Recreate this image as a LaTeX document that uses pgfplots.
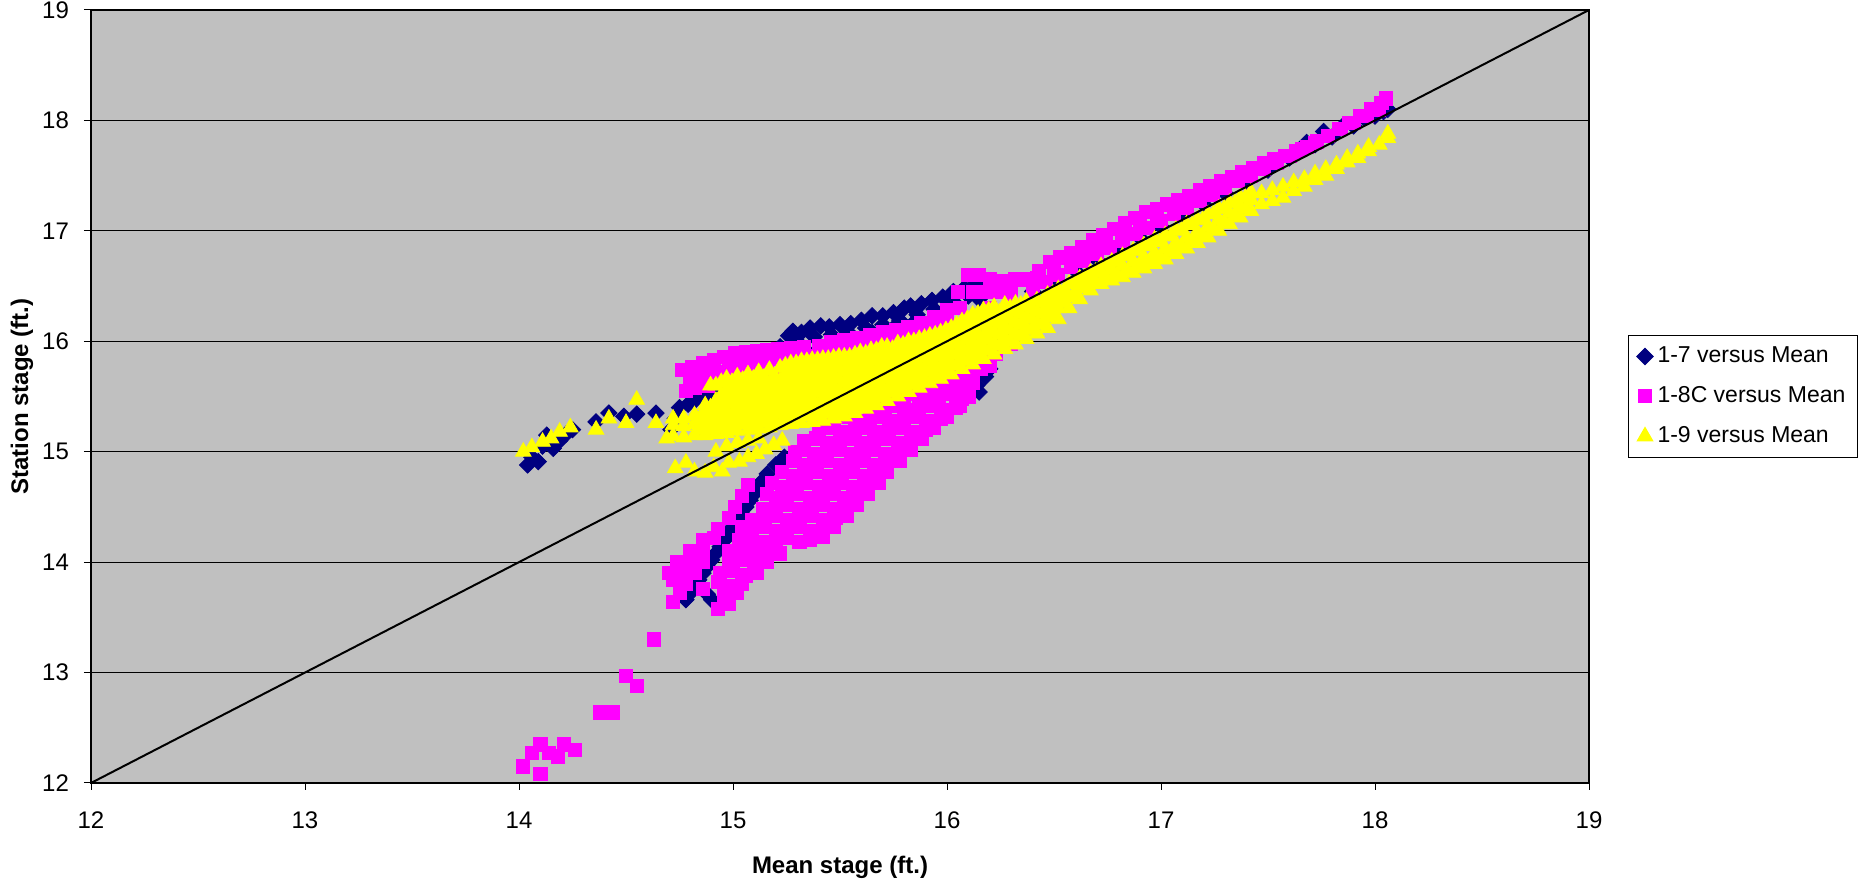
\documentclass[border=0pt]{standalone}
\usepackage{fontspec}
\setmainfont{Liberation Sans}
\usepackage{pgfplots}
\pgfplotsset{compat=1.18}

\definecolor{plotbg}{HTML}{C0C0C0}
\definecolor{s17}{HTML}{000080}
\definecolor{s18}{HTML}{FF00FF}
\definecolor{s19}{HTML}{FFFF00}

\begin{document}
\begin{tikzpicture}
\begin{axis}[
    name=ax,
    scale only axis,
    width=749pt, height=386.5pt,
    xmin=12, xmax=19, ymin=12, ymax=19,
    xtick={12,13,...,19}, ytick={12,13,...,19},
    tick pos=left, tick align=outside, major tick length=3.5pt,
    tick style={black, line width=0.5pt},
    axis line style={black, line width=0.6pt},
    axis background/.style={fill=plotbg},
    ymajorgrids, grid style={black, line width=0.5pt},
    clip marker paths=true,
    /pgf/number format/assume math mode=true,
    ticklabel style={font=\fontsize{12}{14}\selectfont},
    xticklabel style={yshift=-7.5pt},
    yticklabel style={xshift=-4pt},
    xlabel={Mean stage (ft.)},
    ylabel={Station stage (ft.)},
    label style={font=\bfseries\fontsize{12}{14}\selectfont},
    ylabel style={at={(axis description cs:-0.046,0.5)}, anchor=center},
    xlabel style={at={(axis description cs:0.5,-0.1087)}, anchor=center},
    legend cell align=left,
    legend style={at={(1,0.5)}, anchor=west, xshift=19.5pt,
        draw=black, line width=0.5pt, fill=white,
        font=\fontsize{11.5}{13}\selectfont, row sep=6.5pt,
        inner xsep=4pt, inner ysep=4pt},
    legend image code/.code={\path (0pt,0pt) (8pt,0pt); \draw[#1] plot coordinates {(4pt,0pt)};},
]

% 1-7 versus Mean
\addplot[only marks, mark=square*, mark size=2.9pt, color=s17, mark options={rotate=45, draw=s17, fill=s17}] coordinates {
(14.04,14.88) (14.06,14.95) (14.09,14.91) (14.11,15.05) (14.13,15.15) (14.16,15.03) (14.19,15.1) (14.22,15.16) (14.25,15.2) (14.36,15.27) (14.42,15.35) (14.49,15.32) (14.55,15.34) (14.64,15.35)
(14.71,15.2) (14.73,15.3) (14.75,15.4) (14.79,15.43) (14.82,15.46) (14.86,15.48) (14.89,15.5) (14.92,15.51) (14.96,15.53) (15.0,15.55) (15.05,15.56) (15.1,15.57) (15.16,15.58) (15.2,15.6) (15.24,15.62)
(15.22,15.95) (15.26,16.05) (15.28,16.09) (15.32,16.08) (15.36,16.12) (15.41,16.14) (15.45,16.13) (15.5,16.15) (15.55,16.16) (15.6,16.19) (15.65,16.23) (15.7,16.23) (15.75,16.26) (15.8,16.3) (15.83,16.32) (15.88,16.34) (15.93,16.37) (15.98,16.4) (16.03,16.45) (16.08,16.48) (16.12,16.5) (16.16,16.52)
(15.3,16.0) (15.38,16.04) (15.46,16.06) (15.54,16.08) (15.62,16.12) (15.7,16.15) (15.78,16.19) (15.86,16.24) (15.94,16.29) (16.02,16.35) (16.1,16.41)
(15.25,15.85) (15.35,15.9) (15.45,15.97) (15.55,16.02) (15.65,16.08) (15.75,16.12) (15.85,16.18) (15.95,16.25) (16.05,16.32) (16.15,16.38)
(16.2,16.26) (16.3,16.35) (16.4,16.45) (16.5,16.55) (16.6,16.64) (16.7,16.74) (16.8,16.84) (16.9,16.94) (17.0,17.04) (17.1,17.14) (17.2,17.24) (17.3,17.34) (17.4,17.45) (17.5,17.55) (17.6,17.66) (17.68,17.8) (17.72,17.78) (17.76,17.9) (17.8,17.85) (17.85,17.95) (17.9,17.95) (17.95,18.02) (18.0,18.04) (18.04,18.08) (18.06,18.1)
(14.78,13.66) (14.8,13.72) (14.82,13.78) (14.84,13.84) (14.86,13.9) (14.88,13.96) (14.9,14.02) (14.92,14.08) (14.94,14.14) (14.96,14.2) (14.98,14.26) (15.0,14.32) (15.02,14.38) (15.04,14.44) (15.06,14.5) (15.08,14.56) (15.1,14.62) (15.12,14.68) (15.14,14.74) (15.16,14.8) (15.2,14.88) (15.24,14.95)
(14.88,13.71) (14.9,13.66) (15.0,14.05) (15.08,14.2) (15.05,14.15)
(16.05,15.8) (16.1,15.72) (16.12,15.65) (16.14,15.6) (16.15,15.54) (16.18,15.68) (16.2,15.75) (16.25,15.97) (16.3,16.05)
};
\addlegendentry{1-7 versus Mean}

% 1-8C versus Mean
\addplot[only marks, mark=square*, mark size=3.3pt, color=s18, mark options={draw=s18, fill=s18}] coordinates {
(14.02,12.15) (14.06,12.27) (14.1,12.35) (14.1,12.08) (14.14,12.27) (14.18,12.24) (14.21,12.35) (14.26,12.3) (14.38,12.64) (14.44,12.64) (14.5,12.97) (14.55,12.88) (14.63,13.3)
(14.72,13.64) (14.93,13.58) (14.98,13.62)
(14.75,13.72) (14.86,13.76) (14.96,13.7) (15.02,13.72)
(14.72,13.84) (14.78,13.8) (14.93,13.82) (14.98,13.78) (15.04,13.8)
(14.7,13.9) (14.76,13.92) (14.82,13.9) (14.94,13.9) (15.0,13.92) (15.06,13.88) (15.11,13.9)
(14.74,14.0) (14.8,14.02) (14.86,14.0) (14.98,14.0) (15.04,14.02) (15.1,13.98) (15.16,14.0)
(14.8,14.1) (14.86,14.12) (14.98,14.1) (15.04,14.12) (15.1,14.1) (15.16,14.12) (15.22,14.08)
(14.86,14.2) (14.91,14.22) (15.03,14.2) (15.08,14.22) (15.14,14.18) (15.2,14.2) (15.25,14.22) (15.31,14.18) (15.36,14.2) (15.42,14.23)
(14.93,14.3) (15.04,14.32) (15.09,14.3) (15.14,14.32) (15.2,14.28) (15.25,14.3) (15.31,14.32) (15.36,14.28) (15.42,14.3) (15.47,14.32)
(14.98,14.4) (15.09,14.38) (15.15,14.4) (15.2,14.42) (15.26,14.38) (15.31,14.4) (15.37,14.42) (15.42,14.38) (15.48,14.4) (15.53,14.42)
(15.01,14.5) (15.14,14.48) (15.2,14.5) (15.25,14.52) (15.31,14.48) (15.36,14.5) (15.42,14.52) (15.47,14.48) (15.53,14.5) (15.58,14.52)
(15.04,14.6) (15.16,14.62) (15.2,14.58) (15.25,14.6) (15.3,14.62) (15.36,14.58) (15.41,14.6) (15.47,14.62) (15.52,14.58) (15.58,14.6) (15.63,14.62)
(15.07,14.7) (15.18,14.72) (15.23,14.68) (15.29,14.7) (15.34,14.72) (15.4,14.68) (15.45,14.7) (15.51,14.72) (15.56,14.68) (15.62,14.7) (15.68,14.72)
(15.23,14.82) (15.28,14.78) (15.34,14.8) (15.39,14.82) (15.45,14.78) (15.5,14.8) (15.56,14.82) (15.61,14.78) (15.67,14.8) (15.72,14.82)
(15.28,14.92) (15.33,14.88) (15.39,14.9) (15.44,14.92) (15.5,14.88) (15.55,14.9) (15.61,14.92) (15.66,14.88) (15.72,14.9) (15.78,14.92)
(15.29,15.0) (15.33,15.02) (15.38,14.98) (15.44,15.0) (15.49,15.02) (15.55,14.98) (15.6,15.0) (15.66,15.02) (15.71,14.98) (15.77,15.0) (15.83,15.02)
(15.33,15.1) (15.39,15.12) (15.44,15.08) (15.5,15.1) (15.55,15.12) (15.61,15.08) (15.66,15.1) (15.72,15.12) (15.77,15.08) (15.83,15.1) (15.88,15.12)
(15.4,15.2) (15.46,15.22) (15.51,15.18) (15.57,15.2) (15.62,15.22) (15.68,15.18) (15.73,15.2) (15.79,15.22) (15.84,15.18) (15.9,15.2) (15.94,15.22)
(15.47,15.3) (15.53,15.32) (15.58,15.28) (15.64,15.3) (15.69,15.32) (15.75,15.28) (15.8,15.3) (15.86,15.32) (15.91,15.28) (15.97,15.3) (16.0,15.32)
(15.54,15.4) (15.6,15.42) (15.65,15.38) (15.71,15.4) (15.76,15.42) (15.82,15.38) (15.87,15.4) (15.93,15.42) (15.98,15.38) (16.04,15.4) (16.06,15.42)
(15.63,15.5) (15.69,15.52) (15.74,15.48) (15.8,15.5) (15.85,15.52) (15.91,15.48) (15.96,15.5) (16.02,15.52) (16.07,15.48) (16.1,15.5)
(15.76,15.6) (15.82,15.62) (15.87,15.58) (15.93,15.6) (15.98,15.62) (16.04,15.58) (16.09,15.6) (16.12,15.62)
(15.88,15.7) (15.94,15.72) (15.99,15.68) (16.05,15.7) (16.1,15.72) (16.16,15.75) (16.2,15.78)
(16.0,15.8) (16.06,15.82) (16.11,15.8) (16.17,15.84) (16.23,15.89)
(16.12,15.92) (16.18,15.94) (16.24,15.95) (16.3,15.98)
(14.76,15.74) (14.81,15.77) (14.86,15.8) (14.91,15.83) (14.96,15.86) (15.01,15.89) (15.06,15.9) (15.11,15.91) (15.16,15.92) (15.21,15.93) (15.27,15.94) (15.33,15.95) (15.4,15.96) (15.46,15.99) (15.52,16.01) (15.58,16.03) (15.64,16.06) (15.7,16.08) (15.76,16.1) (15.82,16.13) (15.88,16.17) (15.94,16.22) (16.0,16.28) (16.05,16.45) (16.1,16.6) (16.15,16.6) (16.2,16.56) (16.26,16.55) (16.32,16.56)
(14.8,15.65) (14.86,15.68) (14.92,15.72) (14.98,15.76) (15.04,15.78) (15.1,15.8) (15.16,15.82) (15.22,15.84) (15.28,15.85) (15.34,15.87) (15.4,15.88) (15.46,15.9) (15.52,15.92) (15.58,15.94) (15.64,15.97) (15.7,16.0) (15.76,16.02) (15.82,16.05) (15.88,16.08) (15.94,16.12) (16.0,16.17) (16.06,16.3) (16.12,16.45) (16.18,16.45) (16.24,16.45) (16.3,16.46)
(14.78,15.55) (14.82,15.58) (14.88,15.6) (14.94,15.64) (15.0,15.67) (15.08,15.7) (15.16,15.73) (15.24,15.76) (15.32,15.78) (15.4,15.8) (15.5,15.83) (15.6,15.87) (15.7,15.92) (15.8,15.97) (15.9,16.02) (16.0,16.08) (16.1,16.18) (16.2,16.3) (16.3,16.38)
(16.38,16.56) (16.43,16.64) (16.48,16.72) (16.53,16.76) (16.58,16.8) (16.63,16.85) (16.68,16.92) (16.73,16.96) (16.78,17.02) (16.83,17.07) (16.88,17.12) (16.93,17.17) (16.98,17.2) (17.03,17.24) (17.08,17.28) (17.13,17.32) (17.18,17.37) (17.23,17.41) (17.28,17.45) (17.33,17.49) (17.38,17.53) (17.43,17.57) (17.48,17.61) (17.53,17.65) (17.58,17.68) (17.63,17.72) (17.68,17.76) (17.73,17.81) (17.78,17.86) (17.83,17.92) (17.88,17.98) (17.93,18.04) (17.98,18.1) (18.03,18.16) (18.05,18.2)
(16.42,16.57) (16.5,16.65) (16.58,16.73) (16.66,16.81) (16.74,16.89) (16.82,16.97) (16.9,17.05) (16.98,17.13) (17.06,17.21) (17.14,17.29)
(16.4,16.47) (16.46,16.54) (16.52,16.6) (16.58,16.67) (16.64,16.73) (16.7,16.79) (16.76,16.85) (16.82,16.91) (16.88,16.97) (16.94,17.03) (17.0,17.09) (17.06,17.15) (17.12,17.21) (17.18,17.27) (17.24,17.33) (17.3,17.39) (17.36,17.45) (17.42,17.5) (17.48,17.56) (17.54,17.62) (17.6,17.68) (17.66,17.74) (17.72,17.8) (17.78,17.86) (17.84,17.92) (17.9,17.98) (17.96,18.04) (18.02,18.1)
};
\addlegendentry{1-8C versus Mean}

% 1-9 versus Mean
\addplot[only marks, mark=triangle*, mark size=4.5pt, color=s19, mark options={draw=s19, fill=s19}] coordinates {
(14.02,15.0) (14.06,15.04) (14.11,15.09) (14.15,15.12) (14.19,15.18) (14.24,15.22) (14.36,15.2) (14.42,15.3) (14.5,15.26) (14.55,15.47) (14.64,15.26) (14.69,15.12)
(14.73,14.85) (14.78,14.9) (14.82,14.82) (14.87,14.81) (14.91,14.86) (14.95,14.82) (14.98,14.9) (15.03,14.91) (15.07,14.95) (15.11,14.98) (15.15,15.02) (15.19,15.06) (15.23,15.1) (14.92,15.0) (14.97,15.05) (15.02,15.08) (15.07,15.1) (15.12,15.12)
(14.72,15.14) (14.72,15.24) (14.72,15.3)
(14.77,15.13) (14.77,15.23) (14.77,15.3)
(14.82,15.15) (14.82,15.25) (14.82,15.33)
(14.87,15.15) (14.87,15.25) (14.87,15.35) (14.87,15.42)
(14.92,15.16) (14.92,15.26) (14.92,15.36) (14.92,15.46) (14.92,15.6)
(14.97,15.17) (14.97,15.27) (14.97,15.37) (14.97,15.47) (14.97,15.57) (14.97,15.66)
(15.02,15.19) (15.02,15.29) (15.02,15.39) (15.02,15.49) (15.02,15.59) (15.02,15.68)
(15.07,15.2) (15.07,15.3) (15.07,15.4) (15.07,15.5) (15.07,15.6) (15.07,15.7)
(15.12,15.21) (15.12,15.31) (15.12,15.41) (15.12,15.51) (15.12,15.61) (15.12,15.72)
(15.17,15.22) (15.17,15.32) (15.17,15.42) (15.17,15.52) (15.17,15.62) (15.17,15.74)
(15.22,15.24) (15.22,15.34) (15.22,15.44) (15.22,15.54) (15.22,15.64) (15.22,15.76)
(15.27,15.25) (15.27,15.35) (15.27,15.45) (15.27,15.55) (15.27,15.65) (15.27,15.75) (15.27,15.8)
(15.32,15.26) (15.32,15.36) (15.32,15.46) (15.32,15.56) (15.32,15.66) (15.32,15.76) (15.32,15.82)
(15.37,15.27) (15.37,15.37) (15.37,15.47) (15.37,15.57) (15.37,15.67) (15.37,15.77) (15.37,15.83)
(15.42,15.28) (15.42,15.38) (15.42,15.48) (15.42,15.58) (15.42,15.68) (15.42,15.78) (15.42,15.84)
(15.47,15.3) (15.47,15.4) (15.47,15.5) (15.47,15.6) (15.47,15.7) (15.47,15.8) (15.47,15.85)
(15.52,15.32) (15.52,15.42) (15.52,15.52) (15.52,15.62) (15.52,15.72) (15.52,15.82) (15.52,15.86)
(15.57,15.35) (15.57,15.45) (15.57,15.55) (15.57,15.65) (15.57,15.75) (15.57,15.85) (15.57,15.88)
(15.62,15.39) (15.62,15.49) (15.62,15.59) (15.62,15.69) (15.62,15.79) (15.62,15.89)
(15.67,15.42) (15.67,15.52) (15.67,15.62) (15.67,15.72) (15.67,15.82) (15.67,15.92)
(15.72,15.46) (15.72,15.56) (15.72,15.66) (15.72,15.76) (15.72,15.86) (15.72,15.95)
(15.77,15.5) (15.77,15.6) (15.77,15.7) (15.77,15.8) (15.77,15.9) (15.77,15.98)
(15.82,15.54) (15.82,15.64) (15.82,15.74) (15.82,15.84) (15.82,15.94) (15.82,16.0)
(15.87,15.58) (15.87,15.68) (15.87,15.78) (15.87,15.88) (15.87,15.98) (15.87,16.02)
(15.92,15.62) (15.92,15.72) (15.92,15.82) (15.92,15.92) (15.92,16.02) (15.92,16.05)
(15.97,15.66) (15.97,15.76) (15.97,15.86) (15.97,15.96) (15.97,16.06) (15.97,16.08)
(16.02,15.7) (16.02,15.8) (16.02,15.9) (16.02,16.0) (16.02,16.1) (16.02,16.12)
(16.07,15.75) (16.07,15.85) (16.07,15.95) (16.07,16.05) (16.07,16.15) (16.07,16.18)
(16.12,15.79) (16.12,15.89) (16.12,15.99) (16.12,16.09) (16.12,16.19) (16.12,16.24)
(16.17,15.84) (16.17,15.94) (16.17,16.04) (16.17,16.14) (16.17,16.24) (16.17,16.28)
(16.22,15.88) (16.22,15.98) (16.22,16.08) (16.22,16.18) (16.22,16.28) (16.22,16.31)
(16.27,15.93) (16.27,16.03) (16.27,16.13) (16.27,16.23) (16.27,16.33)
(16.32,15.97) (16.32,16.07) (16.32,16.17) (16.32,16.27) (16.32,16.34)
(16.37,16.02) (16.37,16.12) (16.37,16.22) (16.37,16.32) (16.37,16.36)
(16.42,16.07) (16.42,16.17) (16.42,16.27) (16.42,16.37)
(16.47,16.12) (16.47,16.22) (16.47,16.32) (16.47,16.42)
(16.52,16.2) (16.52,16.3) (16.52,16.4) (16.52,16.47)
(16.57,16.3) (16.57,16.4) (16.57,16.52)
(16.62,16.38) (16.62,16.48) (16.62,16.57)
(16.67,16.46) (16.67,16.56) (16.67,16.62)
(16.72,16.52) (16.72,16.62) (16.72,16.68)
(16.77,16.55) (16.77,16.65) (16.77,16.72)
(16.82,16.58) (16.82,16.68) (16.82,16.77)
(16.87,16.62) (16.87,16.72) (16.87,16.82)
(16.92,16.66) (16.92,16.76) (16.92,16.87)
(16.97,16.7) (16.97,16.8) (16.97,16.92)
(17.02,16.74) (17.02,16.84) (17.02,16.96)
(17.07,16.79) (17.07,16.89) (17.07,17.01)
(17.12,16.84) (17.12,16.94) (17.12,17.06)
(17.17,16.89) (17.17,16.99) (17.17,17.1)
(17.22,16.94) (17.22,17.04) (17.22,17.15)
(17.27,17.0) (17.27,17.1) (17.27,17.2)
(17.32,17.06) (17.32,17.16) (17.32,17.25)
(17.37,17.12) (17.37,17.22) (17.37,17.3)
(17.42,17.18) (17.42,17.28) (17.42,17.35)
(17.47,17.24) (17.47,17.34)
(17.52,17.27) (17.52,17.37)
(17.57,17.3) (17.57,17.4)
(17.62,17.36) (17.62,17.44)
(17.67,17.4) (17.67,17.47)
(17.72,17.46) (17.72,17.52)
(17.77,17.5) (17.77,17.56)
(17.82,17.56) (17.82,17.6)
(17.87,17.62) (17.87,17.66)
(17.92,17.66) (17.92,17.7)
(17.97,17.72) (17.97,17.76)
(18.02,17.78) (18.06,17.88) (18.06,17.84)
(14.845,15.2) (14.845,15.3)
(14.895,15.2) (14.895,15.3) (14.895,15.4) (14.895,15.6)
(14.945,15.21) (14.945,15.31) (14.945,15.41) (14.945,15.51) (14.945,15.63)
(14.995,15.23) (14.995,15.33) (14.995,15.43) (14.995,15.53) (14.995,15.63)
(15.045,15.25) (15.045,15.35) (15.045,15.45) (15.045,15.55) (15.045,15.65)
(15.095,15.26) (15.095,15.36) (15.095,15.46) (15.095,15.56) (15.095,15.66)
(15.145,15.27) (15.145,15.37) (15.145,15.47) (15.145,15.57) (15.145,15.67)
(15.195,15.28) (15.195,15.38) (15.195,15.48) (15.195,15.58) (15.195,15.68)
(15.245,15.3) (15.245,15.4) (15.245,15.5) (15.245,15.6) (15.245,15.7) (15.245,15.78)
(15.295,15.31) (15.295,15.41) (15.295,15.51) (15.295,15.61) (15.295,15.71) (15.295,15.8)
(15.345,15.32) (15.345,15.42) (15.345,15.52) (15.345,15.62) (15.345,15.72) (15.345,15.82)
(15.395,15.33) (15.395,15.43) (15.395,15.53) (15.395,15.63) (15.395,15.73) (15.395,15.83)
(15.445,15.34) (15.445,15.44) (15.445,15.54) (15.445,15.64) (15.445,15.74) (15.445,15.84)
(15.495,15.36) (15.495,15.46) (15.495,15.56) (15.495,15.66) (15.495,15.76) (15.495,15.86)
(15.545,15.38) (15.545,15.48) (15.545,15.58) (15.545,15.68) (15.545,15.78) (15.545,15.86)
(15.595,15.42) (15.595,15.52) (15.595,15.62) (15.595,15.72) (15.595,15.82) (15.595,15.9)
(15.645,15.45) (15.645,15.55) (15.645,15.65) (15.645,15.75) (15.645,15.85) (15.645,15.92)
(15.695,15.49) (15.695,15.59) (15.695,15.69) (15.695,15.79) (15.695,15.89) (15.695,15.95)
(15.745,15.53) (15.745,15.63) (15.745,15.73) (15.745,15.83) (15.745,15.93)
(15.795,15.57) (15.795,15.67) (15.795,15.77) (15.795,15.87) (15.795,15.97)
(15.845,15.61) (15.845,15.71) (15.845,15.81) (15.845,15.91) (15.845,16.0)
(15.895,15.65) (15.895,15.75) (15.895,15.85) (15.895,15.95) (15.895,16.03)
(15.945,15.69) (15.945,15.79) (15.945,15.89) (15.945,15.99) (15.945,16.06)
(15.995,15.73) (15.995,15.83) (15.995,15.93) (15.995,16.03) (15.995,16.1)
(16.045,15.78) (16.045,15.88) (16.045,15.98) (16.045,16.08) (16.045,16.15)
(16.095,15.82) (16.095,15.92) (16.095,16.02) (16.095,16.12) (16.095,16.2)
(16.145,15.86) (16.145,15.96) (16.145,16.06) (16.145,16.16) (16.145,16.25)
(16.195,15.91) (16.195,16.01) (16.195,16.11) (16.195,16.21) (16.195,16.28)
(16.245,15.96) (16.245,16.06) (16.245,16.16) (16.245,16.26)
(16.295,16.0) (16.295,16.1) (16.295,16.2) (16.295,16.3)
(16.345,16.05) (16.345,16.15) (16.345,16.25) (16.345,16.33)
(16.395,16.1) (16.395,16.2) (16.395,16.3)
(16.445,16.15) (16.445,16.25) (16.445,16.35)
(16.495,16.25) (16.495,16.35) (16.495,16.43)
(16.545,16.35) (16.545,16.45) (16.595,16.43) (16.595,16.52)
(16.645,16.5) (16.645,16.58) (16.695,16.53) (16.695,16.63)
(16.745,16.57) (16.745,16.68) (16.795,16.6) (16.795,16.72)
(16.845,16.64) (16.845,16.77) (16.895,16.68) (16.895,16.82)
(16.945,16.72) (16.945,16.86) (16.995,16.76) (16.995,16.9)
(17.045,16.81) (17.045,16.95) (17.095,16.86) (17.095,17.0)
(17.145,16.91) (17.145,17.05) (17.195,16.96) (17.195,17.1)
(17.245,17.02) (17.245,17.15) (17.295,17.08) (17.295,17.2)
(17.345,17.14) (17.345,17.25) (17.395,17.2) (17.395,17.3)
};
\addlegendentry{1-9 versus Mean}

\addplot[black, line width=1pt, no marks, forget plot] coordinates {(12,12) (19,19)};

\end{axis}
\pgfresetboundingbox
\path[use as bounding box] ([xshift=-45.5pt,yshift=-49pt]ax.south west) rectangle ([xshift=138pt,yshift=5pt]ax.north east);
\end{tikzpicture}
\end{document}
